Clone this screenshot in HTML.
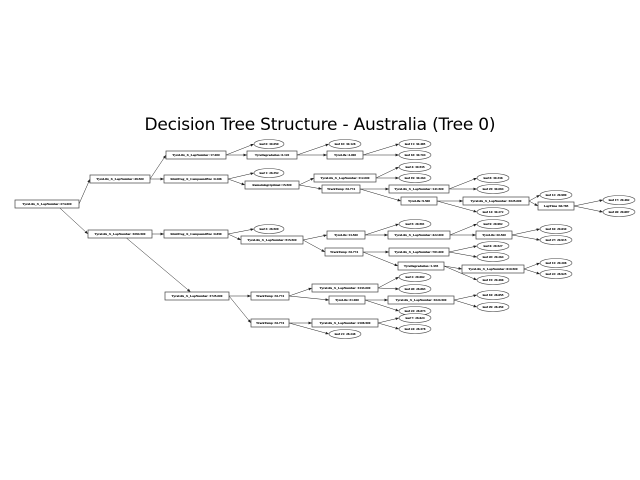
<!DOCTYPE html>
<html><head><meta charset="utf-8"><style>
html,body{margin:0;padding:0;background:#fff;width:640px;height:480px;overflow:hidden}
svg text.n{font-family:"Liberation Serif",serif;font-size:3.4px;font-weight:bold;fill:#000;stroke:#000;stroke-width:0.08;text-anchor:middle;dominant-baseline:central}
rect{fill:#fff;stroke:#444;stroke-width:0.7}
ellipse{fill:#fff;stroke:#444;stroke-width:0.6}
</style></head><body>
<svg id="s" width="640" height="480" viewBox="0 0 640 480" xmlns="http://www.w3.org/2000/svg">
<defs><marker id="ar" markerWidth="4" markerHeight="4" refX="3.5" refY="2" orient="auto" markerUnits="userSpaceOnUse"><path d="M0,0.6 L3.5,2 L0,3.4z" fill="#222"/></marker></defs>
<text x="320" y="130" font-family="DejaVu Sans,sans-serif" font-size="17" text-anchor="middle" textLength="351" fill="#000">Decision Tree Structure - Australia (Tree 0)</text>
<g id="edges" stroke="#222" stroke-width="0.5" fill="none"></g>
<g id="nodes">
<g id="R"><rect x="15" y="200" width="64" height="8"/><text class="n" x="47" y="204">TyreLife_X_LapNumber :274.000</text></g>
<g id="A"><rect x="90" y="175" width="60" height="8"/><text class="n" x="120" y="179">TyreLife_X_LapNumber :49.500</text></g>
<g id="B"><rect x="88" y="230" width="64" height="8"/><text class="n" x="120" y="234">TyreLife_X_LapNumber :1094.500</text></g>
<g id="A1"><rect x="166" y="151" width="60" height="8"/><text class="n" x="196" y="155">TyreLife_X_LapNumber :17.000</text></g>
<g id="A2"><rect x="164" y="175" width="64" height="8"/><text class="n" x="196" y="179">StintProg_X_CompoundEnc :0.286</text></g>
<g id="l0"><ellipse cx="269" cy="144" rx="15" ry="4.5"/><text class="n" x="269" y="144">leaf 0: 30.050</text></g>
<g id="TD"><rect x="247" y="151" width="50" height="8"/><text class="n" x="272" y="155">TyreDegradation :0.120</text></g>
<g id="l1"><ellipse cx="269" cy="173" rx="15" ry="4.5"/><text class="n" x="269" y="173">leaf 1: 28.352</text></g>
<g id="RO"><rect x="245" y="181" width="54" height="8"/><text class="n" x="272" y="185">RemainingOptimal :15.500</text></g>
<g id="l10"><ellipse cx="345" cy="144" rx="16" ry="4.5"/><text class="n" x="345" y="144">leaf 10: 30.128</text></g>
<g id="TL4"><rect x="327" y="151" width="36" height="8"/><text class="n" x="345" y="155">TyreLife :4.000</text></g>
<g id="l11"><ellipse cx="415" cy="144" rx="16" ry="4.5"/><text class="n" x="415" y="144">leaf 11: 30.495</text></g>
<g id="l18"><ellipse cx="415" cy="155" rx="16" ry="4.5"/><text class="n" x="415" y="155">leaf 18: 30.704</text></g>
<g id="T112"><rect x="314" y="174" width="62" height="8"/><text class="n" x="345" y="178">TyreLife_X_LapNumber :112.000</text></g>
<g id="l4"><ellipse cx="415" cy="167" rx="16" ry="4.5"/><text class="n" x="415" y="167">leaf 4: 30.535</text></g>
<g id="l19"><ellipse cx="415" cy="178" rx="16" ry="4.5"/><text class="n" x="415" y="178">leaf 19: 30.264</text></g>
<g id="TT1"><rect x="322" y="185" width="38" height="8"/><text class="n" x="341" y="189">TrackTemp :33.774</text></g>
<g id="T141"><rect x="389" y="185" width="60" height="8"/><text class="n" x="419" y="189">TyreLife_X_LapNumber :141.500</text></g>
<g id="l8"><ellipse cx="493" cy="178" rx="16" ry="4.5"/><text class="n" x="493" y="178">leaf 8: 30.336</text></g>
<g id="l25"><ellipse cx="493" cy="189" rx="16" ry="4.5"/><text class="n" x="493" y="189">leaf 25: 30.094</text></g>
<g id="TL95"><rect x="401" y="197" width="36" height="8"/><text class="n" x="419" y="201">TyreLife :9.500</text></g>
<g id="T1025"><rect x="463" y="197" width="66" height="8"/><text class="n" x="496" y="201">TyreLife_X_LapNumber :1025.000</text></g>
<g id="l14"><ellipse cx="493" cy="212" rx="16" ry="4.5"/><text class="n" x="493" y="212">leaf 14: 30.272</text></g>
<g id="l12"><ellipse cx="556" cy="195" rx="16" ry="4.5"/><text class="n" x="556" y="195">leaf 12: 29.999</text></g>
<g id="LT"><rect x="538" y="202" width="36" height="8"/><text class="n" x="556" y="206">LapTime :84.785</text></g>
<g id="l17"><ellipse cx="619" cy="200" rx="16" ry="4.5"/><text class="n" x="619" y="200">leaf 17: 29.482</text></g>
<g id="l26"><ellipse cx="619" cy="212" rx="16" ry="4.5"/><text class="n" x="619" y="212">leaf 26: 29.697</text></g>
<g id="B1"><rect x="164" y="230" width="64" height="8"/><text class="n" x="196" y="234">StintProg_X_CompoundEnc :0.859</text></g>
<g id="l3"><ellipse cx="269" cy="229" rx="15" ry="4.5"/><text class="n" x="269" y="229">leaf 3: 28.509</text></g>
<g id="T515"><rect x="241" y="236" width="62" height="8"/><text class="n" x="272" y="240">TyreLife_X_LapNumber :515.500</text></g>
<g id="TL135"><rect x="327" y="231" width="38" height="8"/><text class="n" x="346" y="235">TyreLife :13.500</text></g>
<g id="l5"><ellipse cx="415" cy="224" rx="16" ry="4.5"/><text class="n" x="415" y="224">leaf 5: 29.591</text></g>
<g id="T422"><rect x="388" y="231" width="62" height="8"/><text class="n" x="419" y="235">TyreLife_X_LapNumber :422.000</text></g>
<g id="l9"><ellipse cx="493" cy="224" rx="16" ry="4.5"/><text class="n" x="493" y="224">leaf 9: 29.992</text></g>
<g id="TL205"><rect x="476" y="231" width="36" height="8"/><text class="n" x="494" y="235">TyreLife :20.500</text></g>
<g id="l16b"><ellipse cx="556" cy="229" rx="16" ry="4.5"/><text class="n" x="556" y="229">leaf 16: 29.630</text></g>
<g id="l27"><ellipse cx="556" cy="240" rx="16" ry="4.5"/><text class="n" x="556" y="240">leaf 27: 29.915</text></g>
<g id="TT2"><rect x="325" y="248" width="38" height="8"/><text class="n" x="344" y="252">TrackTemp :33.774</text></g>
<g id="T781"><rect x="389" y="248" width="60" height="8"/><text class="n" x="419" y="252">TyreLife_X_LapNumber :781.000</text></g>
<g id="l6"><ellipse cx="493" cy="246" rx="16" ry="4.5"/><text class="n" x="493" y="246">leaf 6: 29.527</text></g>
<g id="l20"><ellipse cx="493" cy="257" rx="16" ry="4.5"/><text class="n" x="493" y="257">leaf 20: 29.264</text></g>
<g id="TD2"><rect x="398" y="262" width="46" height="8"/><text class="n" x="421" y="266">TyreDegradation :1.335</text></g>
<g id="T610"><rect x="462" y="265" width="62" height="8"/><text class="n" x="493" y="269">TyreLife_X_LapNumber :610.500</text></g>
<g id="l15"><ellipse cx="493" cy="280" rx="16" ry="4.5"/><text class="n" x="493" y="280">leaf 15: 29.486</text></g>
<g id="l13"><ellipse cx="556" cy="263" rx="16" ry="4.5"/><text class="n" x="556" y="263">leaf 13: 29.208</text></g>
<g id="l22"><ellipse cx="556" cy="274" rx="16" ry="4.5"/><text class="n" x="556" y="274">leaf 22: 28.925</text></g>
<g id="C"><rect x="165" y="292" width="64" height="8"/><text class="n" x="197" y="296">TyreLife_X_LapNumber :1725.000</text></g>
<g id="TT3"><rect x="251" y="292" width="38" height="8"/><text class="n" x="270" y="296">TrackTemp :33.774</text></g>
<g id="T1333"><rect x="312" y="284" width="66" height="8"/><text class="n" x="345" y="288">TyreLife_X_LapNumber :1333.000</text></g>
<g id="l2"><ellipse cx="415" cy="277" rx="16" ry="4.5"/><text class="n" x="415" y="277">leaf 2: 29.062</text></g>
<g id="l28"><ellipse cx="415" cy="289" rx="16" ry="4.5"/><text class="n" x="415" y="289">leaf 28: 28.863</text></g>
<g id="TL319"><rect x="329" y="296" width="36" height="8"/><text class="n" x="347" y="300">TyreLife :31.900</text></g>
<g id="T1024"><rect x="388" y="296" width="66" height="8"/><text class="n" x="421" y="300">TyreLife_X_LapNumber :1024.500</text></g>
<g id="l16"><ellipse cx="493" cy="295" rx="16" ry="4.5"/><text class="n" x="493" y="295">leaf 16: 28.655</text></g>
<g id="l29"><ellipse cx="493" cy="307" rx="16" ry="4.5"/><text class="n" x="493" y="307">leaf 29: 28.450</text></g>
<g id="l23"><ellipse cx="415" cy="311" rx="16" ry="4.5"/><text class="n" x="415" y="311">leaf 23: 28.873</text></g>
<g id="TT4"><rect x="251" y="319" width="38" height="8"/><text class="n" x="270" y="323">TrackTemp :33.774</text></g>
<g id="T2108"><rect x="312" y="319" width="66" height="8"/><text class="n" x="345" y="323">TyreLife_X_LapNumber :2108.500</text></g>
<g id="l7"><ellipse cx="415" cy="318" rx="16" ry="4.5"/><text class="n" x="415" y="318">leaf 7: 28.624</text></g>
<g id="l24"><ellipse cx="415" cy="329" rx="16" ry="4.5"/><text class="n" x="415" y="329">leaf 24: 28.378</text></g>
<g id="l21"><ellipse cx="345" cy="334" rx="16" ry="4.5"/><text class="n" x="345" y="334">leaf 21: 28.248</text></g>
</g>
</svg>
<script>
var E=[["R","A"],["R","B"],["A","A1"],["A","A2"],["A1","l0"],["A1","TD"],["A2","l1"],["A2","RO"],["TD","l10"],["TD","TL4"],["TL4","l11"],["TL4","l18"],["RO","T112"],["RO","TT1"],["T112","l4"],["T112","l19"],["TT1","T141"],["TT1","TL95"],["T141","l8"],["T141","l25"],["TL95","T1025"],["TL95","l14"],["T1025","l12"],["T1025","LT"],["LT","l17"],["LT","l26"],["B","B1"],["B","C"],["B1","l3"],["B1","T515"],["T515","TL135"],["T515","TT2"],["TL135","l5"],["TL135","T422"],["T422","l9"],["T422","TL205"],["TL205","l16b"],["TL205","l27"],["TT2","T781"],["TT2","TD2"],["T781","l6"],["T781","l20"],["TD2","T610"],["TD2","l15"],["T610","l13"],["T610","l22"],["C","TT3"],["C","TT4"],["TT3","T1333"],["TT3","TL319"],["T1333","l2"],["T1333","l28"],["TL319","T1024"],["TL319","l23"],["T1024","l16"],["T1024","l29"],["TT4","T2108"],["TT4","l21"],["T2108","l7"],["T2108","l24"]];
var g=document.getElementById("edges"),ns="http://www.w3.org/2000/svg";
function bb(id){var e=document.getElementById(id).firstElementChild;return e.getBBox();}
E.forEach(function(p){var a=bb(p[0]),b=bb(p[1]);var x1=a.x+a.width,y1=a.y+a.height/2,x2=b.x,y2=b.y+b.height/2;
if(p[0]=="R"&&p[1]=="B"){x1=a.x+a.width*0.7;y1=a.y+a.height;}
if(p[0]=="B"&&p[1]=="C"){x1=a.x+a.width*0.6;y1=a.y+a.height;x2=b.x+b.width*0.4;y2=b.y;}
var l=document.createElementNS(ns,"line");l.setAttribute("x1",x1);l.setAttribute("y1",y1);l.setAttribute("x2",x2);l.setAttribute("y2",y2);l.setAttribute("marker-end","url(#ar)");g.appendChild(l);});
</script>
</body></html>
